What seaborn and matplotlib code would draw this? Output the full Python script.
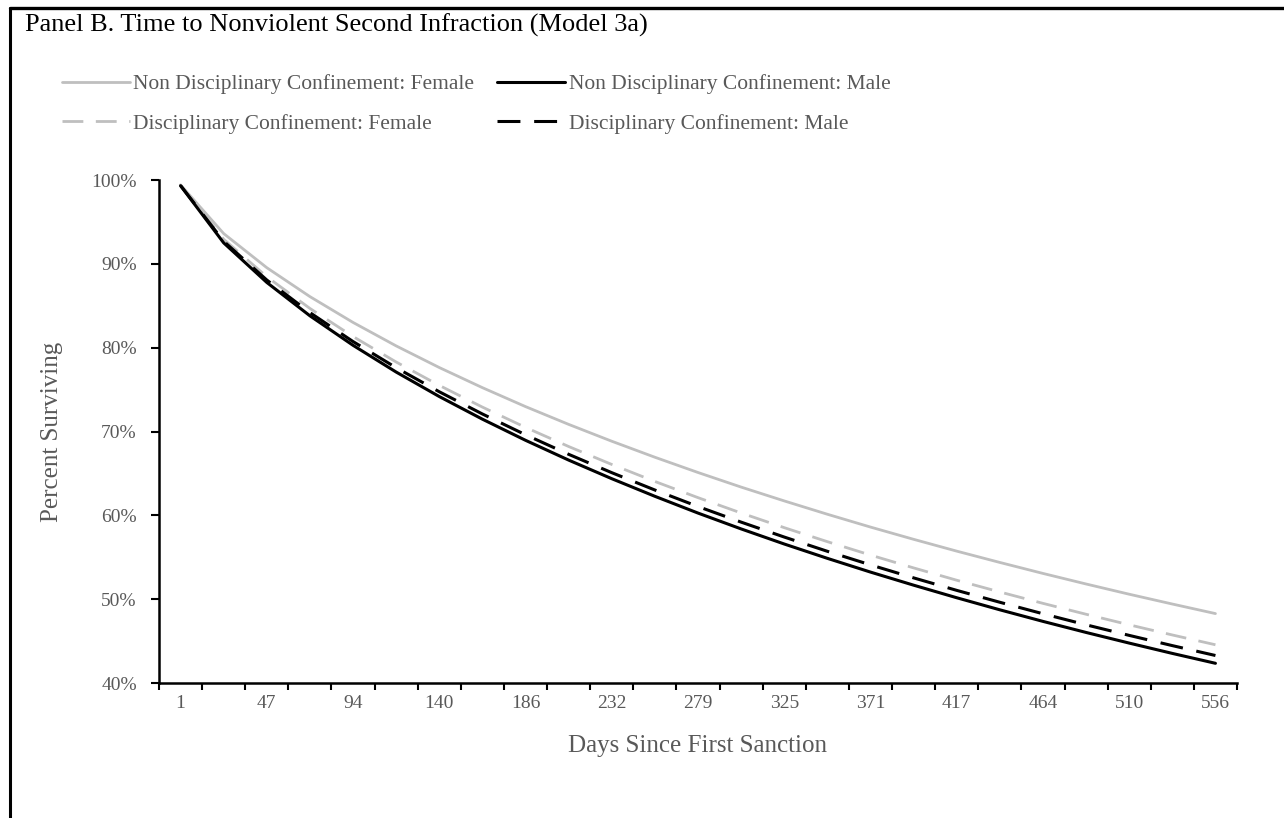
import numpy as np
import pandas as pd
import matplotlib
matplotlib.use("Agg")
import matplotlib.pyplot as plt
from matplotlib.lines import Line2D
import seaborn as sns

sns.set_theme(style="white")
plt.rcParams["font.family"] = ["Liberation Serif", "DejaVu Serif"]

# Days since first sanction (category centres)
days = [1, 24.125, 47.25, 70.375, 93.5, 116.625, 139.75, 162.875, 186,
        209.125, 232.25, 255.375, 278.5, 301.625, 324.75, 347.875, 371,
        394.125, 417.25, 440.375, 463.5, 486.625, 509.75, 532.875, 556]
tick_labels = ["1", "47", "94", "140", "186", "232", "279", "325", "371",
               "417", "464", "510", "556"]

# Predicted survival (%) by group
ndc_female = [99.42, 93.61, 89.54, 86.09, 83.01, 80.21, 77.63, 75.23, 72.97,
              70.85, 68.84, 66.93, 65.11, 63.37, 61.72, 60.13, 58.60, 57.14,
              55.73, 54.38, 53.07, 51.81, 50.59, 49.42, 48.28]
ndc_male = [99.32, 92.50, 87.78, 83.80, 80.28, 77.09, 74.17, 71.47, 68.95,
            66.59, 64.37, 62.27, 60.27, 58.38, 56.58, 54.87, 53.23, 51.67,
            50.17, 48.73, 47.35, 46.03, 44.76, 43.53, 42.35]
dc_female = [99.36, 92.93, 88.46, 84.68, 81.33, 78.29, 75.50, 72.91, 70.49,
             68.21, 66.07, 64.04, 62.11, 60.28, 58.53, 56.86, 55.26, 53.73,
             52.26, 50.86, 49.50, 48.20, 46.94, 45.73, 44.56]
dc_male = [99.34, 92.69, 88.07, 84.18, 80.73, 77.61, 74.74, 72.09, 69.61,
           67.28, 65.09, 63.02, 61.05, 59.19, 57.41, 55.71, 54.09, 52.54,
           51.05, 49.63, 48.26, 46.94, 45.68, 44.46, 43.28]

groups = {
    "Non Disciplinary Confinement: Female": ndc_female,
    "Disciplinary Confinement: Female": dc_female,
    "Non Disciplinary Confinement: Male": ndc_male,
    "Disciplinary Confinement: Male": dc_male,
}
df = pd.concat(
    [pd.DataFrame({"day": days, "surv": np.array(v) / 100.0, "group": k})
     for k, v in groups.items()],
    ignore_index=True,
)

W, H = 1284, 818
fig = plt.figure(figsize=(W / 100, H / 100), dpi=100)
ax_left, ax_right, ax_top, ax_bottom = 159, 1237, 180, 683
ax = fig.add_axes([ax_left / W, 1 - ax_bottom / H,
                   (ax_right - ax_left) / W, (ax_bottom - ax_top) / H])

GREY = "#BFBFBF"
TXT = "#595959"
palette = {
    "Non Disciplinary Confinement: Female": GREY,
    "Disciplinary Confinement: Female": GREY,
    "Non Disciplinary Confinement: Male": "black",
    "Disciplinary Confinement: Male": "black",
}
dash_map = {
    "Non Disciplinary Confinement: Female": "",
    "Disciplinary Confinement: Female": (7.5, 4.5),
    "Non Disciplinary Confinement: Male": "",
    "Disciplinary Confinement: Male": (7.5, 4.5),
}
sns.lineplot(data=df, x="day", y="surv", hue="group", style="group",
             palette=palette, dashes=dash_map, hue_order=list(groups),
             style_order=list(groups), linewidth=2.2, ax=ax, legend=False)
for ln, name in zip(ax.get_lines(), groups):
    if palette[name] == GREY:
        ln.set_linewidth(2.0)

# Category axis: ticks on boundaries, labels on every other centre
step = days[1] - days[0]
bounds = [d - step / 2 for d in days] + [days[-1] + step / 2]
ax.set_xlim(bounds[0], bounds[-1])
ax.set_xticks(bounds)
ax.set_xticklabels([])
ax.set_xticks(days[::2], minor=True)
ax.set_xticklabels(tick_labels, minor=True)
ax.tick_params(axis="x", which="major", direction="out", length=5, width=1.5,
               color="black", bottom=True)
ax.tick_params(axis="x", which="minor", length=0, pad=9, labelsize=14,
               labelcolor=TXT)

ax.set_ylim(0.40, 1.00)
yt = np.arange(0.40, 1.001, 0.10)
ax.set_yticks(yt)
ax.set_yticklabels([f"{int(round(v * 100))}%" for v in yt])
ax.tick_params(axis="y", direction="out", length=6, width=1.5, color="black",
               left=True, labelsize=14, labelcolor=TXT, pad=10)

for s in ["top", "right"]:
    ax.spines[s].set_visible(False)
for s in ["left", "bottom"]:
    ax.spines[s].set_color("black")
    ax.spines[s].set_linewidth(1.8)

ax.set_xlabel("Days Since First Sanction", fontsize=18, color=TXT,
              labelpad=16)
ax.set_ylabel("Percent Surviving", fontsize=18, color=TXT, labelpad=20)

# Title and panel frame
fig.text(25 / W, 1 - 25 / H,
         "Panel B. Time to Nonviolent Second Infraction (Model 3a)",
         fontsize=19, color="black", va="center", ha="left")
fig.add_artist(Line2D([10 / W, 10 / W], [0, 1 - 8 / H], color="black",
                      linewidth=2.2, transform=fig.transFigure))
fig.add_artist(Line2D([10 / W, 1], [1 - 8 / H, 1 - 8 / H], color="black",
                      linewidth=2.4, transform=fig.transFigure))

# Legend (two columns)
handles = []
for name in groups:
    d = dash_map[name]
    h = Line2D([], [], color=palette[name],
               linewidth=2.0 if palette[name] == GREY else 2.2,
               linestyle=(0, d) if d else "-")
    handles.append(h)
fig.legend(handles, list(groups), ncol=2, frameon=False,
           loc="upper left", bbox_to_anchor=(62 / W, 1 - 74 / H),
           borderpad=0, borderaxespad=0,
           handlelength=3.16, handletextpad=0.15, columnspacing=1.07,
           labelspacing=0.9, fontsize=15.5, labelcolor=TXT)

fig.savefig("out.png", dpi=100)
